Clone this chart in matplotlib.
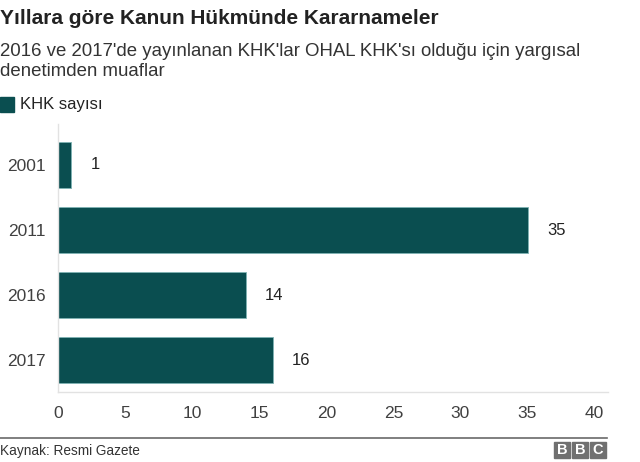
import matplotlib.pyplot as plt
from matplotlib.patches import Rectangle

plt.rcParams['font.family'] = ['Liberation Sans', 'DejaVu Sans']

# data
years = ['2001', '2011', '2016', '2017']
counts = [1, 35, 14, 16]
x_ticks = [0, 5, 10, 15, 20, 25, 30, 35, 40]

BAR_COLOR = '#0a4e50'
W, H = 640, 462


def fx(px):
    return px / W


def fy(py):
    return 1 - py / H


fig = plt.figure(figsize=(6.4, 4.62), dpi=100)
fig.patch.set_facecolor('white')

# axes placed in pixel terms
ax = fig.add_axes([fx(58), fy(392), fx(608) - fx(58), fy(124) - fy(392)])
ax.barh(range(len(years)), counts, height=0.71, color=BAR_COLOR,
        edgecolor='#7fb3b3', linewidth=0.6)
ax.set_xlim(0, 41)
ax.set_ylim(3.49, -0.63)
ax.set_yticks(range(len(years)))
ax.set_yticklabels(years, fontsize=12.5, color='#404040')
ax.set_xticks(x_ticks)
ax.set_xticklabels([str(t) for t in x_ticks], fontsize=12.5, color='#404040')
ax.tick_params(axis='both', length=0)
ax.tick_params(axis='x', pad=10)
ax.tick_params(axis='y', pad=9)
for s in ['top', 'right']:
    ax.spines[s].set_visible(False)
for s in ['left', 'bottom']:
    ax.spines[s].set_color('#e2e2e2')
    ax.spines[s].set_linewidth(1)

for i, v in enumerate(counts):
    ax.annotate(str(v), xy=(v, i), xytext=(14, 0), textcoords='offset points',
                va='center', ha='left', fontsize=12, color='#222222')

# titles
fig.text(0, fy(19), 'Yıllara göre Kanun Hükmünde Kararnameler', fontsize=15,
         fontweight='bold', color='#222222', va='center', ha='left')
fig.text(0, fy(52), "2016 ve 2017'de yayınlanan KHK'lar OHAL KHK'sı olduğu için yargısal",
         fontsize=13.4, color='#333333', va='center', ha='left')
fig.text(0, fy(72), 'denetimden muaflar', fontsize=13.4, color='#333333',
         va='center', ha='left')

# legend
fig.patches.append(Rectangle((fx(0), fy(112)), fx(14), fy(97) - fy(112),
                             transform=fig.transFigure, color=BAR_COLOR))
fig.text(fx(20), fy(105), 'KHK sayısı', fontsize=12, color='#222222',
         va='center', ha='left')

# footer
fig.add_artist(plt.Line2D([0, fx(607)], [fy(438), fy(438)], color='#6a6a6a',
                          linewidth=1.2, transform=fig.transFigure))
fig.text(0, fy(451), 'Kaynak: Resmi Gazete', fontsize=9.8, color='#333333',
         va='center', ha='left')

# BBC blocks
for k, letter in enumerate('BBC'):
    x0 = 554 + k * 18
    fig.patches.append(Rectangle((fx(x0), fy(458)), fx(16), fy(442) - fy(458),
                                 transform=fig.transFigure, color='#707070'))
    fig.text(fx(x0 + 8), fy(450), letter, fontsize=10.5, fontweight='bold',
             color='white', va='center', ha='center')

fig.savefig('out.png', dpi=100)
